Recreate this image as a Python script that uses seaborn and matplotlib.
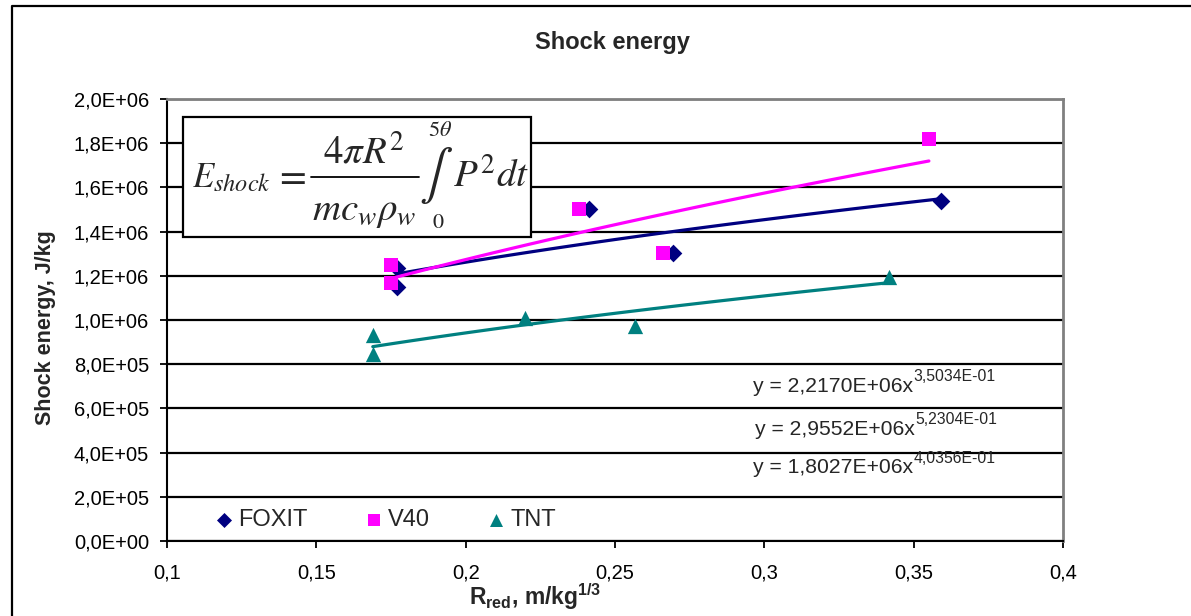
import matplotlib
matplotlib.use("Agg")
import matplotlib.pyplot as plt
from matplotlib.lines import Line2D
from matplotlib.patches import Rectangle
import numpy as np
import seaborn as sns

# ---- data ----
foxit_x = [0.1769, 0.1769, 0.2414, 0.2695, 0.3590]
foxit_y = [1.234e6, 1.151e6, 1.502e6, 1.302e6, 1.538e6]
v40_x = [0.1749, 0.1749, 0.2379, 0.2662, 0.3551]
v40_y = [1.249e6, 1.169e6, 1.502e6, 1.302e6, 1.819e6]
tnt_x = [0.1689, 0.1689, 0.2199, 0.2567, 0.3418]
tnt_y = [0.932e6, 0.846e6, 1.009e6, 0.973e6, 1.195e6]

# power trendline coefficients y = a * x^b
fit_a = [2.2170e6, 2.9552e6, 1.8027e6]
fit_b = [3.5034e-01, 5.2304e-01, 4.0356e-01]
eq_main = ["y = 2,2170E+06x", "y = 2,9552E+06x", "y = 1,8027E+06x"]
eq_sup = ["3,5034E-01", "5,2304E-01", "4,0356E-01"]

series_names = ["FOXIT", "V40", "TNT"]
colors = ["#000080", "#FF00FF", "#008080"]
markers = ["D", "s", "^"]

x_ticks = [0.1, 0.15, 0.2, 0.25, 0.3, 0.35, 0.4]
x_tick_labels = ["0,1", "0,15", "0,2", "0,25", "0,3", "0,35", "0,4"]
y_ticks = [0, 2e5, 4e5, 6e5, 8e5, 1e6, 1.2e6, 1.4e6, 1.6e6, 1.8e6, 2e6]
y_tick_labels = ["0,0E+00", "2,0E+05", "4,0E+05", "6,0E+05", "8,0E+05", "1,0E+06",
                 "1,2E+06", "1,4E+06", "1,6E+06", "1,8E+06", "2,0E+06"]

title = "Shock energy"
y_label = "Shock energy, J/kg"
x_label = r"R$_{\mathbf{red}}$, m/kg$^{\mathbf{1/3}}$"

# ---- style ----
sns.set_style("white")
plt.rcParams['font.family'] = ['Liberation Sans', 'DejaVu Sans']
plt.rcParams['mathtext.fontset'] = 'custom'
plt.rcParams['mathtext.rm'] = 'Liberation Sans'
plt.rcParams['mathtext.it'] = 'Liberation Sans:italic'
plt.rcParams['mathtext.bf'] = 'Liberation Sans:bold'

W, H = 1191, 616
fig = plt.figure(figsize=(W / 100, H / 100), dpi=100)
ax = fig.add_axes([167 / W, 1 - 541 / H, (1063 - 167) / W, (541 - 99) / H])

xs_all = [foxit_x, v40_x, tnt_x]
ys_all = [foxit_y, v40_y, tnt_y]
msizes = [9, 9.5, 11]

for xs, ys, name, c, m, ms in zip(xs_all, ys_all, series_names, colors, markers, msizes):
    sns.scatterplot(x=xs, y=ys, ax=ax, marker=m, color=c, s=ms ** 2,
                    edgecolor=c, linewidth=0, label=name, zorder=3)

for xs, a, b, c in zip(xs_all, fit_a, fit_b, colors):
    xx = np.linspace(min(xs), max(xs), 100)
    sns.lineplot(x=xx, y=a * xx ** b, ax=ax, color=c, lw=2.3, legend=False, zorder=3.5)

ax.set_xlim(0.1, 0.4)
ax.set_ylim(0, 2e6)
ax.set_xticks(x_ticks)
ax.set_xticklabels(x_tick_labels)
ax.set_yticks(y_ticks)
ax.set_yticklabels(y_tick_labels)
ax.tick_params(axis='both', labelsize=14.5, direction='out', length=5, width=1.3,
               colors='black', left=True, bottom=True)
ax.tick_params(axis='y', pad=8)
ax.tick_params(axis='x', pad=11)
ax.yaxis.grid(True, color='black', lw=1.6, zorder=0)
ax.xaxis.grid(False)
ax.set_axisbelow(True)
for s in ['left', 'bottom']:
    ax.spines[s].set_color('black')
    ax.spines[s].set_linewidth(1.5)
for s in ['top', 'right']:
    ax.spines[s].set_color('#808080')
    ax.spines[s].set_linewidth(2)
ax.set_xlabel("")
ax.set_ylabel("")

# legend
leg = ax.legend(ncol=3, loc='center left', bbox_to_anchor=((215 - 167) / 896, (541 - 520) / 442),
                frameon=False, fontsize=17, handletextpad=0.2, columnspacing=2.4,
                handlelength=0.8, borderpad=0, borderaxespad=0, markerscale=0.85)

# trendline equations
eq_y = [(541 - 391.7) / 442, (541 - 435) / 442, (541 - 473.3) / 442]
eq_x = [(753 - 167) / 896, (755 - 167) / 896, (753 - 167) / 896]
for xm, ym, t, sup in zip(eq_x, eq_y, eq_main, eq_sup):
    tx = ax.text(xm, ym, t, transform=ax.transAxes, ha='left', va='baseline', fontsize=15.2, zorder=5)
    ax.annotate(sup, xy=(1, 0), xycoords=tx, xytext=(0.5, 10.5), textcoords='offset points',
                ha='left', va='baseline', fontsize=11.3, zorder=5)

# formula box
def fx(px):
    return (px - 167) / 896


def fy(py):
    return (541 - py) / 442


box = Rectangle((fx(183), fy(237)), fx(531) - fx(183), fy(117) - fy(237), transform=ax.transAxes,
                facecolor='white', edgecolor='black', lw=1.6, zorder=4)
ax.add_patch(box)
mkw = dict(transform=ax.transAxes, math_fontfamily='stix', zorder=5)
ax.text(fx(192), fy(187), r"$E_{shock}$", ha='left', va='baseline', fontsize=25, **mkw)
ax.text(fx(290), fy(187), r"$=$", ha='center', va='baseline', fontsize=28, **mkw)
ax.text(fx(364), fy(163), r"$4\pi R^2$", ha='center', va='baseline', fontsize=28, **mkw)
ax.add_line(Line2D([fx(311), fx(419)], [fy(177), fy(177)], transform=ax.transAxes,
                   color='black', lw=1.3, zorder=5))
ax.text(fx(364), fy(220), r"$mc_w\rho_w$", ha='center', va='baseline', fontsize=28, **mkw)
ax.text(fx(436), fy(175), r"$\int$", ha='center', va='center', fontsize=36, **mkw)
ax.text(fx(440), fy(131), r"$5\theta$", ha='center', va='center', fontsize=16, **mkw)
ax.text(fx(438), fy(222), r"$0$", ha='center', va='center', fontsize=16, **mkw)
ax.text(fx(453), fy(187), r"$P^2dt$", ha='left', va='baseline', fontsize=28, **mkw)

# titles and labels
fig.text(612 / W, 1 - 42 / H, title, ha='center', va='center', fontsize=17, fontweight='bold')
fig.text(45 / W, 1 - 328 / H, y_label, ha='center', va='center', rotation=90,
         fontsize=15.5, fontweight='bold')
fig.text(535 / W, 1 - 597 / H, x_label, ha='center', va='center', fontsize=16.5, fontweight='bold')

# outer chart border (top and left edges visible)
fig.add_artist(Line2D([12 / W, 12 / W, 1.5], [-0.5, 1 - 6 / H, 1 - 6 / H],
                      transform=fig.transFigure, color='black', lw=1.6))

fig.savefig("out.png", dpi=100)
